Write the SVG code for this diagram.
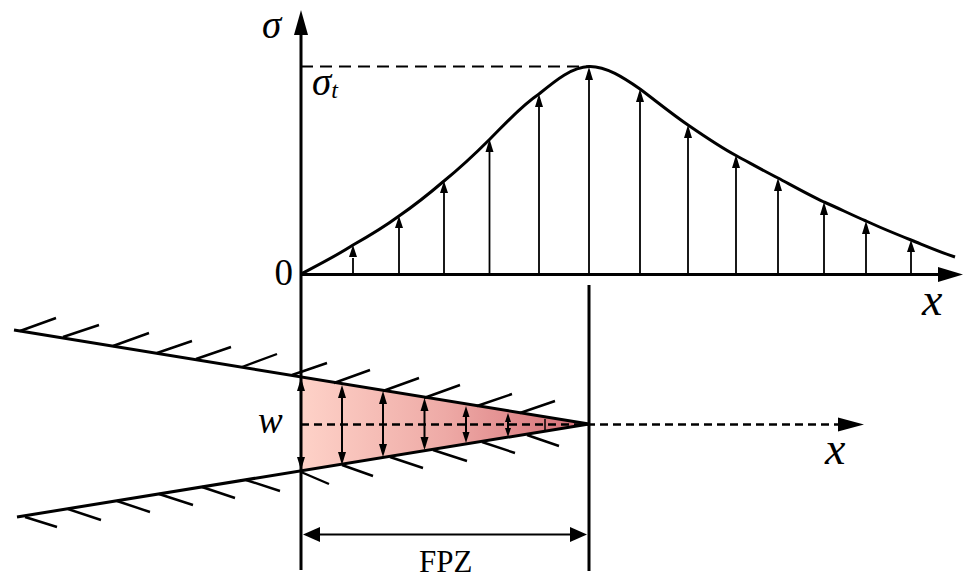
<svg xmlns="http://www.w3.org/2000/svg" width="963" height="579" viewBox="0 0 963 579">
<style>
.t{font-family:"Liberation Serif","Times New Roman",serif;fill:#000}
.i{font-style:italic}
.ln{fill:none;stroke:#000;stroke-linecap:butt}
.ax{stroke-width:3}
.cr{stroke-width:3}
.h{stroke-width:2.4}
.a{stroke-width:1.8}
</style>
<defs>
<linearGradient id="g" gradientUnits="userSpaceOnUse" x1="301" y1="0" x2="589" y2="0">
<stop offset="0" stop-color="#fed2c8"/><stop offset="0.5" stop-color="#eeaaa6"/><stop offset="1" stop-color="#d46c74"/>
</linearGradient>
</defs>
<g id="fill"><path d="M301,377 L589,424 L301,471 Z" fill="url(#g)"/></g>
<g id="connectors">
<g id="axes">
<path class="ln ax" d="M301,30 V570"/>
<path d="M294,35 L301,10 L308,35 Z"/>
<path class="ln ax" d="M301,274.500 H940"/>
<path d="M938,267 L963,274.500 L938,282 Z"/>
<path class="ln ax" d="M589,285 V571"/>
</g>
<path id="peak-dash" class="ln" stroke-width="2" stroke-dasharray="12 7" d="M301,66.500 H590"/>
<path id="curve" class="ln" stroke-width="3" d="M301,274 C318,265 336,256 353,245 C369,236 384,227 399,216 C415,205 430,193 444,181 C460,168 475,154 490,139 C506,123 521,106 539,94 C556,80 572,67 589,66.500 C606,66 624,78 640,89 C656,101 672,114 688,125 C704,136 720,147 736,155.500 C750,163 764,171 778,178 C793,186 809,195 824,202 C838,208 852,215 866,221 C881,228 896,234 911,240 C926,246 940,252 955,257"/>
<g id="stress-arrows" class="ln a">
<path d="M353,274 V258"/><path d="M399,274 V228"/><path d="M444,274 V192"/><path d="M489.500,274 V152"/><path d="M539,274 V106"/><path d="M589,274 V78"/><path d="M640,274 V100"/><path d="M688,274 V136"/><path d="M736,274 V166"/><path d="M778,274 V190"/><path d="M824,274 V214"/><path d="M866,274 V232"/><path d="M911,274 V252"/>
</g>
<g id="stress-heads">
<path d="M349,257 L353,245 L357,257 Z"/><path d="M395,228 L399,216 L403,228 Z"/><path d="M440,193 L444,181 L448,193 Z"/><path d="M485.500,152 L489.500,139 L493.500,152 Z"/><path d="M535,107 L539,94 L543,107 Z"/><path d="M585,80 L589,67 L593,80 Z"/><path d="M636,102 L640,89 L644,102 Z"/><path d="M684,138 L688,125 L692,138 Z"/><path d="M732,168 L736,155 L740,168 Z"/><path d="M774,191 L778,178 L782,191 Z"/><path d="M820,215 L824,202 L828,215 Z"/><path d="M862,234 L866,221 L870,234 Z"/><path d="M907,252 L911,240 L915,252 Z"/>
</g>
<g id="crack">
<path class="ln cr" d="M14,330 L589,424 L17,517"/>
<path class="ln h" d="M20,331 L56,318 M63,337 L99,325 M113,346 L149,333 M157,353 L192,341 M196,359 L231,347 M242,367 L277,354 M292,375 L327,363 M334,383 L370,370 M383,391 L419,378 M424,398 L460,385 M477,406 L512,394 M520,413 L555,401"/>
<path class="ln h" d="M25,517 L57,527 M68,509 L101,520 M117,501 L150,512 M159,494 L193,505 M202,487 L235,498 M246,480 L280,491 M301,472 L329,484 M342,465 L373,476 M390,457 L423,468 M433,450 L467,461 M482,442 L515,453 M527,435 L559,446"/>
</g>
<path id="mid-dash" class="ln" stroke-width="2.400" stroke-dasharray="8 5" d="M301,424.500 H842"/>
<path id="x2-head" d="M838,417.500 L864,424.500 L838,431.500 Z"/>
<g id="opening-arrows" class="ln" stroke-width="2">
<path d="M342,395 V455"/><path d="M383,401 V447"/><path d="M424.500,408 V440"/><path d="M466,415 V434"/><path d="M508,420 V430"/>
<path stroke-width="1.500" d="M545,419 V431"/>
</g>
<g id="opening-heads">
<path d="M297,391 L301,378 L305,391 Z"/><path d="M297,457 L301,470 L305,457 Z"/>
<path d="M338,398 L342,385 L346,398 Z"/><path d="M338,452 L342,465 L346,452 Z"/>
<path d="M379,404 L383,391 L387,404 Z"/><path d="M379,444 L383,457 L387,444 Z"/>
<path d="M420.500,411 L424.500,398 L428.500,411 Z"/><path d="M420.500,437 L424.500,450 L428.500,437 Z"/>
<path d="M462.500,417 L466,406 L469.500,417 Z"/><path d="M462.500,432 L466,443 L469.500,432 Z"/>
<path d="M505,422 L508,413 L511,422 Z"/><path d="M505,428 L508,437 L511,428 Z"/>
</g>
<g id="fpz-dim">
<path class="ln" stroke-width="2" d="M315,534.500 H575"/>
<path d="M303,534.500 L320,527 L320,542 Z"/><path d="M587,534.500 L570,527 L570,542 Z"/>
</g>
</g>
<g id="labels">
<g id="sigma"><text class="t i" x="262" y="38" font-size="39">σ</text></g>
<g id="sigma-t"><text class="t i" x="312" y="95" font-size="39">σ<tspan font-size="24" dy="3">t</tspan></text></g>
<g id="zero"><text class="t" x="274.500" y="285" font-size="37">0</text></g>
<g id="x-top"><text class="t i" x="922" y="315" font-size="46">x</text></g>
<g id="w"><text class="t i" x="258" y="433" font-size="37">w</text></g>
<g id="x-bottom"><text class="t i" x="825" y="464" font-size="46">x</text></g>
<g id="fpz"><text class="t" x="419" y="572" font-size="31">FPZ</text></g>
</g>
</svg>
